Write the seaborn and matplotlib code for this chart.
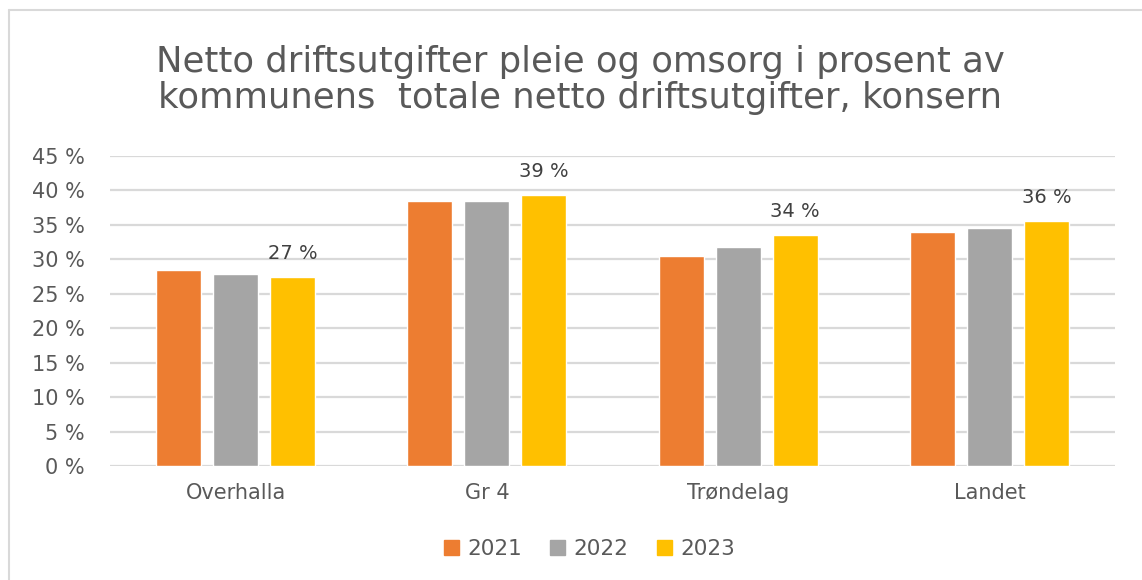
import pandas as pd
import matplotlib
matplotlib.use("Agg")
import matplotlib.pyplot as plt
from matplotlib.lines import Line2D
from matplotlib.ticker import FuncFormatter
import seaborn as sns

# values (percent)
regions = ["Overhalla", "Gr 4", "Trøndelag", "Landet"]
years = ["2021", "2022", "2023"]
vals_2021 = [28.5, 38.4, 30.5, 33.9]
vals_2022 = [27.9, 38.4, 31.8, 34.5]
vals_2023 = [27.4, 39.3, 33.5, 35.6]
labels_2023 = ["27 %", "39 %", "34 %", "36 %"]
colors = ["#ED7D31", "#A5A5A5", "#FFC000"]

df = pd.DataFrame({
    "region": regions * 3,
    "year": [y for y in years for _ in regions],
    "value": vals_2021 + vals_2022 + vals_2023,
})

sns.set_style("white")
plt.rcParams["font.family"] = ["DejaVu Sans"]

fig = plt.figure(figsize=(11.42, 5.80), dpi=100)
ax = fig.add_axes([110 / 1142, 1 - 466 / 580, 1005 / 1142, 310 / 580])

sns.barplot(data=df, x="region", y="value", hue="year", order=regions,
            hue_order=years, palette=colors, width=0.68, gap=0.21,
            saturation=1, ax=ax, legend=False)

ax.bar_label(ax.containers[2], labels=labels_2023, padding=10,
             fontsize=14, color="#404040")

ax.set_ylim(0, 45)
ax.set_xlim(-0.5, 3.5)
ax.set_yticks(range(0, 50, 5))
ax.yaxis.set_major_formatter(FuncFormatter(lambda v, p: f"{int(v)} %"))
ax.grid(axis="y", color="#D9D9D9", linewidth=1.6)
ax.set_axisbelow(True)
for s in ax.spines.values():
    s.set_visible(False)
ax.tick_params(axis="both", length=0, labelsize=15, labelcolor="#595959")
ax.tick_params(axis="x", pad=12)
ax.tick_params(axis="y", pad=18)
ax.set_xlabel("")
ax.set_ylabel("")

fig.text(0.508, 0.862,
         "Netto driftsutgifter pleie og omsorg i prosent av\nkommunens  totale netto driftsutgifter, konsern",
         ha="center", va="center", fontsize=25.5, color="#595959", linespacing=1.1)

handles = [plt.Rectangle((0, 0), 1, 1, color=c) for c in colors]
fig.legend(handles, years, loc="center", bbox_to_anchor=(0.516, 0.053), ncol=3,
           frameon=False, fontsize=15.5, labelcolor="#595959",
           handlelength=0.7, handleheight=0.7, handletextpad=0.4, columnspacing=1.3)

# light border of the chart area
fig.add_artist(Line2D([9 / 1142, 1], [1 - 10 / 580, 1 - 10 / 580], color="#D9D9D9", linewidth=1.5))
fig.add_artist(Line2D([9 / 1142, 9 / 1142], [0, 1 - 10 / 580], color="#D9D9D9", linewidth=1.5))

fig.savefig("out.png", dpi=100)
